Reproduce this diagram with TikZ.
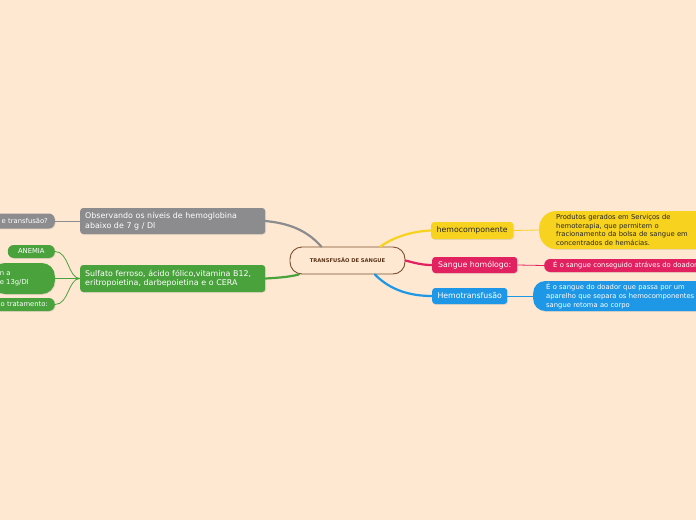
\documentclass[tikz,border=0pt]{standalone}
\usepackage{fontspec}
\setmainfont{DejaVu Sans}
\usepackage{tikz}
\usetikzlibrary{positioning,shadows,calc}

\definecolor{bgcol}{HTML}{FEE8D2}
\definecolor{ctrline}{HTML}{7B4F2C}
\definecolor{ctrtext}{HTML}{5A3418}
\definecolor{graycol}{HTML}{8C8C8E}
\definecolor{greencol}{HTML}{4AA23D}
\definecolor{yellowcol}{HTML}{F7D21E}
\definecolor{pinkcol}{HTML}{E22160}
\definecolor{bluecol}{HTML}{1E98E6}

\tikzset{
  shad/.style={drop shadow={opacity=.18,shadow xshift=.8pt,shadow yshift=-.8pt}},
  topic/.style={shad,rounded corners=3pt,inner ysep=0pt,anchor=west,
    font=\fontsize{7.9}{9.5}\selectfont,text=white,align=left},
  branch/.style={shad,rounded corners=3pt,inner sep=0pt,anchor=west,
    font=\fontsize{7.8}{9}\selectfont,minimum height=16pt},
  leaf/.style={shad,inner ysep=0pt,font=\fontsize{6.8}{8.6}\selectfont,
    text=white,align=left},
  mainline/.style={line width=2.2pt,line cap=round},
  subline/.style={line width=.8pt}
}

\begin{document}
\begin{tikzpicture}[x=1pt,y=-1pt]
  \useasboundingbox[fill=bgcol] (0,0) rectangle (696,520);
  \clip (0,0) rectangle (696,520);

  % central topic
  \node[draw=ctrline,line width=.9pt,fill=bgcol,rounded corners=12pt,
    minimum width=115pt,minimum height=27pt,inner sep=0pt,text=ctrtext,
    font=\fontsize{5.2}{6}\selectfont\bfseries] (ctr) at (347.5,260.5) {TRANSFUSÃO DE SANGUE};

  % left side
  \node[topic,fill=graycol,minimum width=185pt,minimum height=26pt,text width=175pt,inner xsep=5pt]
    (obs) at (80,221) {Observando os níveis de hemoglobina\\abaixo de 7 g / Dl};
  \node[topic,fill=greencol,minimum width=185pt,minimum height=27pt,text width=175pt,inner xsep=5pt]
    (sulf) at (80,278.5) {Sulfato ferroso, ácido fólico,vitamina B12,\\eritropoietina, darbepoietina e o CERA};

  \node[leaf,fill=graycol,rounded corners=6pt,anchor=east,minimum height=15pt,
    text width=60pt,align=right,inner xsep=7pt] (quando) at (55,221) {e transfusão?};
  \node[leaf,fill=greencol,rounded corners=6pt,anchor=east,minimum height=13pt,
    minimum width=47pt,align=center,inner xsep=0pt] (anemia) at (55,251.5) {ANEMIA};
  \node[leaf,fill=greencol,rounded corners=13pt,anchor=east,minimum height=31pt,
    text width=47pt,inner xsep=8pt] (hemog) at (55,278.5) {n a\\e 13g/Dl\\[4pt]};
  \node[leaf,fill=greencol,rounded corners=6pt,anchor=east,minimum height=13pt,
    text width=60pt,align=right,inner xsep=7pt] (trat) at (55,304.5) {o tratamento:};

  % right side
  \node[branch,fill=yellowcol,minimum width=82pt,minimum height=17pt,text=black!85]
    (hemoc) at (431,230.5) {hemocomponente};
  \node[branch,fill=pinkcol,minimum width=85pt,text=white]
    (homol) at (432,265) {Sangue homólogo:};
  \node[branch,fill=bluecol,minimum width=75pt,text=white]
    (hemot) at (432,296) {Hemotransfusão};

  \node[leaf,fill=yellowcol,text=black!85,rounded corners=17pt,anchor=west,
    minimum height=38pt,text width=150pt,inner xsep=17pt] (prod) at (539,230)
    {Produtos gerados em Serviços de\\hemoterapia, que permitem o\\fracionamento da bolsa de sangue em\\concentrados de hemácias.};
  \node[leaf,fill=pinkcol,rounded corners=6pt,anchor=west,minimum height=13pt,
    text width=170pt,inner xsep=9pt] (consg) at (544,265.5)
    {É o sangue conseguido atráves do doador};
  \node[leaf,fill=bluecol,rounded corners=12pt,anchor=west,minimum height=30pt,
    text width=170pt,inner xsep=13pt] (apar) at (533,296)
    {É o sangue do doador que passa por um\\aparelho que separa os hemocomponentes\\sangue retoma ao corpo};

  % main connectors
  \draw[mainline,graycol] (ctr.152) .. controls (305,228) and (285,223) .. (obs.east);
  \draw[mainline,greencol] (ctr.196) .. controls (290,277) and (275,278) .. (sulf.east);
  \draw[mainline,yellowcol] (ctr.23) .. controls (395,236) and (415,231) .. (hemoc.west);
  \draw[mainline,pinkcol] (ctr.east) .. controls (415,263) and (422,265) .. (homol.west);
  \draw[mainline,bluecol] (ctr.333) .. controls (390,290) and (410,296) .. (hemot.west);

  % leaf connectors
  \draw[subline,graycol] (quando.east) -- (obs.west);
  \draw[subline,greencol] (anemia.east) .. controls +(14,0) and +(-12,0) .. (sulf.west);
  \draw[subline,greencol] (hemog.east) -- (sulf.west);
  \draw[subline,greencol] (trat.east) .. controls +(14,0) and +(-12,0) .. (sulf.west);
  \draw[subline,yellowcol] (hemoc.east) -- (prod.west);
  \draw[subline,pinkcol] (homol.east) -- (consg.west);
  \draw[subline,bluecol] (hemot.east) -- (apar.west);
\end{tikzpicture}
\end{document}
